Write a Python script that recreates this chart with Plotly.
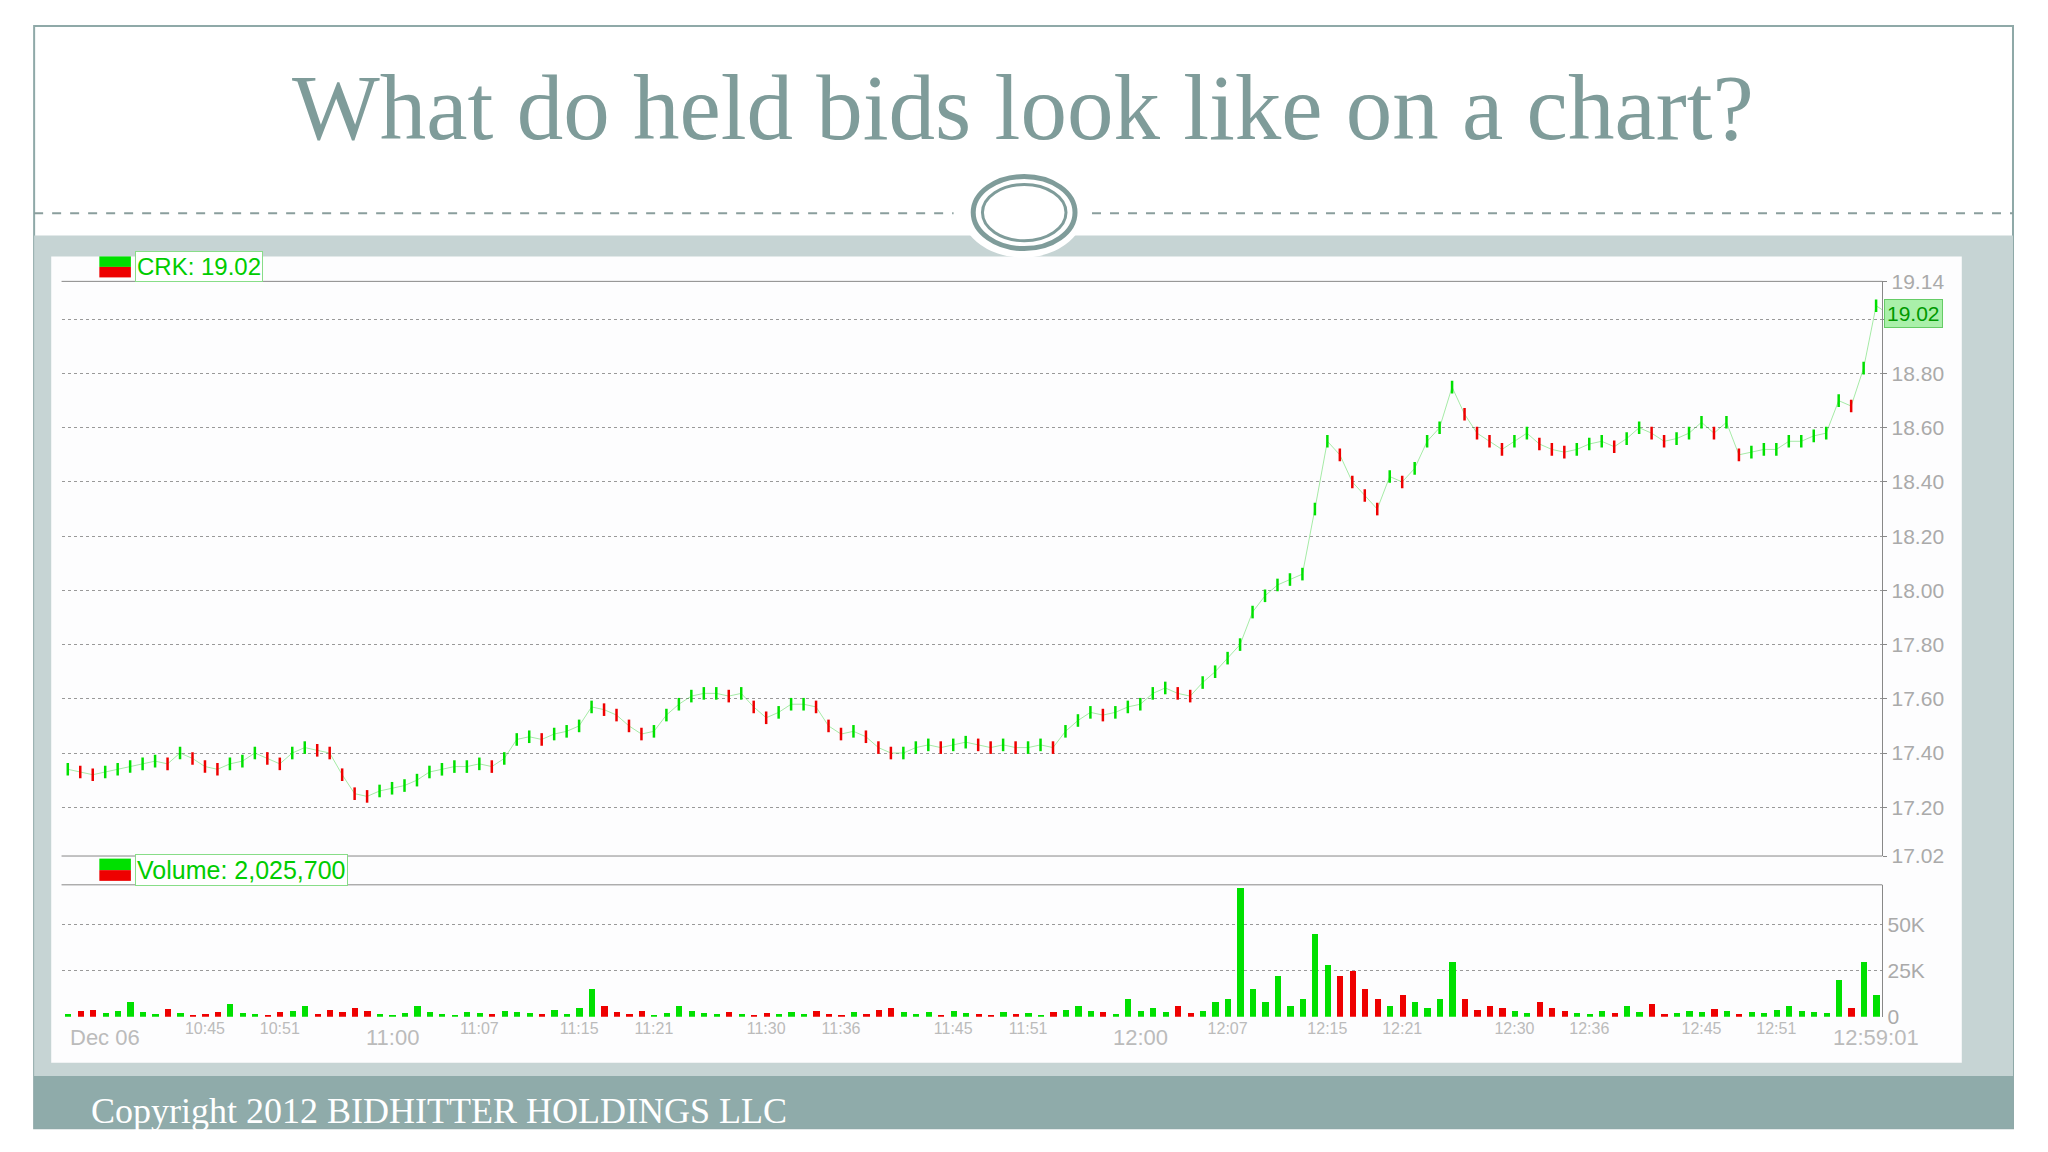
import plotly.graph_objects as go

# minutes since 10:34, one close per minute
price = [17.34, 17.33, 17.32, 17.33, 17.34, 17.35, 17.36, 17.37, 17.36, 17.40, 17.38, 17.35, 17.34, 17.36,
         17.37, 17.40, 17.38, 17.36, 17.40, 17.42, 17.41, 17.40, 17.32, 17.25, 17.24, 17.26,
         17.27, 17.28, 17.30, 17.33, 17.34, 17.35, 17.35, 17.36, 17.35, 17.38, 17.45, 17.46, 17.45, 17.47, 17.48,
         17.50, 17.57, 17.56, 17.54, 17.50, 17.47, 17.48, 17.54, 17.58, 17.61, 17.62, 17.62, 17.61, 17.62,
         17.57, 17.53, 17.55, 17.58, 17.58, 17.57, 17.50, 17.47, 17.48, 17.46, 17.42, 17.40, 17.40,
         17.42, 17.43, 17.42, 17.43, 17.44, 17.43, 17.42, 17.43, 17.42, 17.42, 17.43, 17.42,
         17.48, 17.52, 17.55, 17.54, 17.55, 17.57,
         17.58, 17.62, 17.64, 17.62, 17.61, 17.66, 17.70, 17.75, 17.80, 17.92, 17.98, 18.02, 18.04, 18.06,
         18.30, 18.55, 18.50, 18.40, 18.35, 18.30, 18.42, 18.40, 18.45, 18.55, 18.60, 18.75, 18.65, 18.58,
         18.55, 18.52, 18.55, 18.58, 18.54, 18.52, 18.51, 18.52, 18.54, 18.55, 18.53, 18.56, 18.60, 18.58,
         18.55, 18.56, 18.58, 18.62, 18.58, 18.62, 18.50, 18.51, 18.52, 18.52, 18.55, 18.55, 18.57, 18.58,
         18.70, 18.68, 18.82, 19.05, 19.02]
volume = [1500, 3000, 4000, 2000, 3500, 8000, 2500, 1500, 4500, 2000, 1000, 1500, 2500, 7000,
          2000, 1500, 1000, 2500, 3500, 6000, 1500, 4000, 2500, 5000, 3000, 1500,
          1000, 2000, 6000, 2500, 1500, 1000, 2500, 2000, 1500, 3000, 2500, 2000, 1500, 4000, 1500,
          5000, 15000, 6000, 2500, 1500, 3000, 1000, 2000, 6000, 3500, 2000, 1500, 2500, 1500,
          1000, 2000, 1500, 2500, 1500, 3000, 1500, 1000, 2500, 1500, 4000, 5000, 2500,
          1500, 2500, 1000, 3000, 2000, 1500, 1000, 2500, 1500, 2000, 1000, 2500,
          4000, 6000, 3000, 2500, 1500, 10000,
          3000, 5000, 2500, 6000, 2000, 3500, 8000, 10000, 70000, 15000, 8000, 22000, 6000, 10000,
          45000, 28000, 22000, 25000, 15000, 10000, 6000, 12000, 8000, 5000, 10000, 30000, 10000, 4000,
          6000, 5000, 3000, 2000, 8000, 5000, 3000, 2000, 1500, 3500, 2000, 6000, 2500, 7000,
          1500, 2000, 3500, 2500, 4500, 3000, 1500, 2500, 2000, 4000, 6000, 3000, 2500, 2000,
          20000, 5000, 30000, 12000, 8000]
small_ticks = [11, 17, 33, 41, 47, 56, 62, 71, 77, 93, 101, 107, 116, 122, 131, 137]
tick_labels = ["10:45", "10:51", "11:07", "11:15", "11:21", "11:30", "11:36", "11:45", "11:51",
               "12:07", "12:15", "12:21", "12:30", "12:36", "12:45", "12:51"]
big_labels = [(0, "Dec 06"), (26, "11:00"), (86, "12:00"), (145, "12:59:01")]
price_ticks = [17.02, 17.20, 17.40, 17.60, 17.80, 18.00, 18.20, 18.40, 18.60, 18.80, 19.00, 19.14]
price_labels = ["17.02", "17.20", "17.40", "17.60", "17.80", "18.00", "18.20", "18.40", "18.60", "18.80", "", "19.14"]

minutes = list(range(len(price)))
colors = ['#00e000' if i == 0 or price[i] >= price[i - 1] else '#ee0000' for i in minutes]

TEAL = '#7f9c9a'
XD = [0.02615, 0.9152]
fig = go.Figure()
fig.add_trace(go.Scatter(x=minutes, y=price, mode='lines', line=dict(color='rgba(0,200,0,0.35)', width=1),
                         hoverinfo='skip', showlegend=False))
fig.add_trace(go.Scatter(x=minutes, y=price, mode='markers', showlegend=False,
                         marker=dict(color=colors, size=9, symbol='line-ns-open',
                                     line=dict(color=colors, width=2.5))))
fig.add_trace(go.Bar(x=minutes, y=volume, marker_color=colors, marker_line_width=0, width=0.5,
                     xaxis='x2', yaxis='y2', showlegend=False))

grid = dict(showgrid=True, gridcolor='#999', griddash='dot', gridwidth=1)
fig.update_layout(
    width=2048, height=1152, margin=dict(l=0, r=0, t=0, b=0),
    paper_bgcolor='white', plot_bgcolor='#fdfdfe', bargap=0,
    xaxis=dict(domain=XD, range=[-0.5, 145.5], anchor='y', showticklabels=False,
               showgrid=False, zeroline=False),
    yaxis=dict(domain=[0.2595, 0.7685], range=[17.02, 19.14], side='right', tickvals=price_ticks,
               ticktext=price_labels, tickfont=dict(family='Liberation Sans', size=21, color='#aaa'),
               showline=True, linecolor='#888', zeroline=False, ticks='outside', ticklen=4, tickcolor='#888', **grid),
    xaxis2=dict(domain=XD, range=[-0.5, 145.5], anchor='y2', tickvals=small_ticks,
                ticktext=tick_labels, tickfont=dict(family='Liberation Sans', size=16, color='#bbb'),
                showgrid=False, zeroline=False, ticks=''),
    yaxis2=dict(domain=[0.1171, 0.2340], range=[0, 71400], side='right', tickvals=[0, 25000, 50000],
                ticktext=['0', '25K', '50K'], tickfont=dict(family='Liberation Sans', size=21, color='#aaa'),
                showline=True, linecolor='#888', zeroline=False, **grid),
)

P = dict(xref='paper', yref='paper')
shapes = [
    dict(type='rect', x0=0.01276, x1=0.979, y0=0.0183, y1=0.9947,
         line=dict(color='#8fa9a8', width=2), fillcolor='white', layer='below', **P),
    dict(type='rect', x0=0.01276, x1=0.979, y0=0.0647, y1=0.8092,
         line_width=0, fillcolor='#c6d4d4', layer='below', **P),
    dict(type='rect', x0=0.01276, x1=0.979, y0=0.0183, y1=0.0647,
         line_width=0, fillcolor='#8fabaa', layer='below', **P),
    dict(type='rect', x0=0.0211, x1=0.954, y0=0.0763, y1=0.7906,
         line_width=0, fillcolor='#fdfdfe', layer='below', **P),
    dict(type='line', x0=0.01276, x1=0.4617, y0=0.8289, y1=0.8289,
         line=dict(color='#8a9e9d', width=2, dash='dash'), **P),
    dict(type='line', x0=0.5293, x1=0.979, y0=0.8289, y1=0.8289,
         line=dict(color='#8a9e9d', width=2, dash='dash'), **P),
    dict(type='circle', x0=0.4636, x1=0.5274, y0=0.7894, y1=0.8869,
         line_width=0, fillcolor='white', **P),
    dict(type='circle', x0=0.4713, x1=0.5210, y0=0.7975, y1=0.8614,
         line=dict(color=TEAL, width=5), fillcolor='white', **P),
    dict(type='circle', x0=0.4758, x1=0.5166, y0=0.8045, y1=0.8543,
         line=dict(color=TEAL, width=3), fillcolor='white', **P),
    # pane borders
    dict(type='line', xref='x domain', yref='y domain', x0=0, x1=1, y0=1, y1=1, line=dict(color='#888', width=1)),
    dict(type='line', xref='x domain', yref='y domain', x0=0, x1=1, y0=0, y1=0, line=dict(color='#888', width=1)),
    dict(type='line', xref='x2 domain', yref='y2 domain', x0=0, x1=1, y0=1, y1=1, line=dict(color='#888', width=1)),
    # legend swatches
    dict(type='rect', x0=0.0446, x1=0.0600, y0=0.7813, y1=0.7906, line_width=0, fillcolor='#00e000', **P),
    dict(type='rect', x0=0.0446, x1=0.0600, y0=0.7720, y1=0.7813, line_width=0, fillcolor='#ee0000', **P),
    dict(type='rect', x0=0.0446, x1=0.0600, y0=0.2470, y1=0.2572, line_width=0, fillcolor='#00e000', **P),
    dict(type='rect', x0=0.0446, x1=0.0600, y0=0.2375, y1=0.2470, line_width=0, fillcolor='#ee0000', **P),
]
fig.update_layout(shapes=shapes)

ann = [
    dict(text="What do held bids look like on a chart?", x=0.4955, y=0.9227, yanchor='middle',
         showarrow=False, font=dict(family='Liberation Serif', size=93, color=TEAL), **P),
    dict(text="Copyright 2012 BIDHITTER HOLDINGS LLC", x=0.0395, y=0.0334, yanchor='middle',
         xanchor='left', showarrow=False, font=dict(family='Liberation Serif', size=36, color='white'), **P),
    dict(text="CRK: 19.02", x=0.0619, y=0.7814, yanchor='middle', xanchor='left',
         showarrow=False, font=dict(family='Liberation Sans', size=24, color='#00cc00'),
         bordercolor='#8d8', borderwidth=1, borderpad=1, bgcolor='white', **P),
    dict(text="Volume: 2,025,700", x=0.0619, y=0.2467, yanchor='middle', xanchor='left',
         showarrow=False, font=dict(family='Liberation Sans', size=25, color='#00cc00'),
         bordercolor='#8d8', borderwidth=1, borderpad=1, bgcolor='white', **P),
    dict(text="19.02", x=1, xref='x domain', y=price[-1], yref='y', xanchor='left', yanchor='middle',
         showarrow=False, font=dict(family='Liberation Sans', size=21, color='#009900'), bgcolor='#aaf0aa',
         bordercolor='#6c6', borderwidth=1, borderpad=2, xshift=2),
]
for m, lab in big_labels:
    ann.append(dict(text=lab, x=m, xref='x2', y=0, yref='y2', yanchor='top', yshift=-6,
                    xanchor='left' if m == 0 else 'center',
                    showarrow=False, font=dict(family='Liberation Sans', size=22, color='#bbb')))
fig.update_layout(annotations=ann)

fig.write_html("out.html")
